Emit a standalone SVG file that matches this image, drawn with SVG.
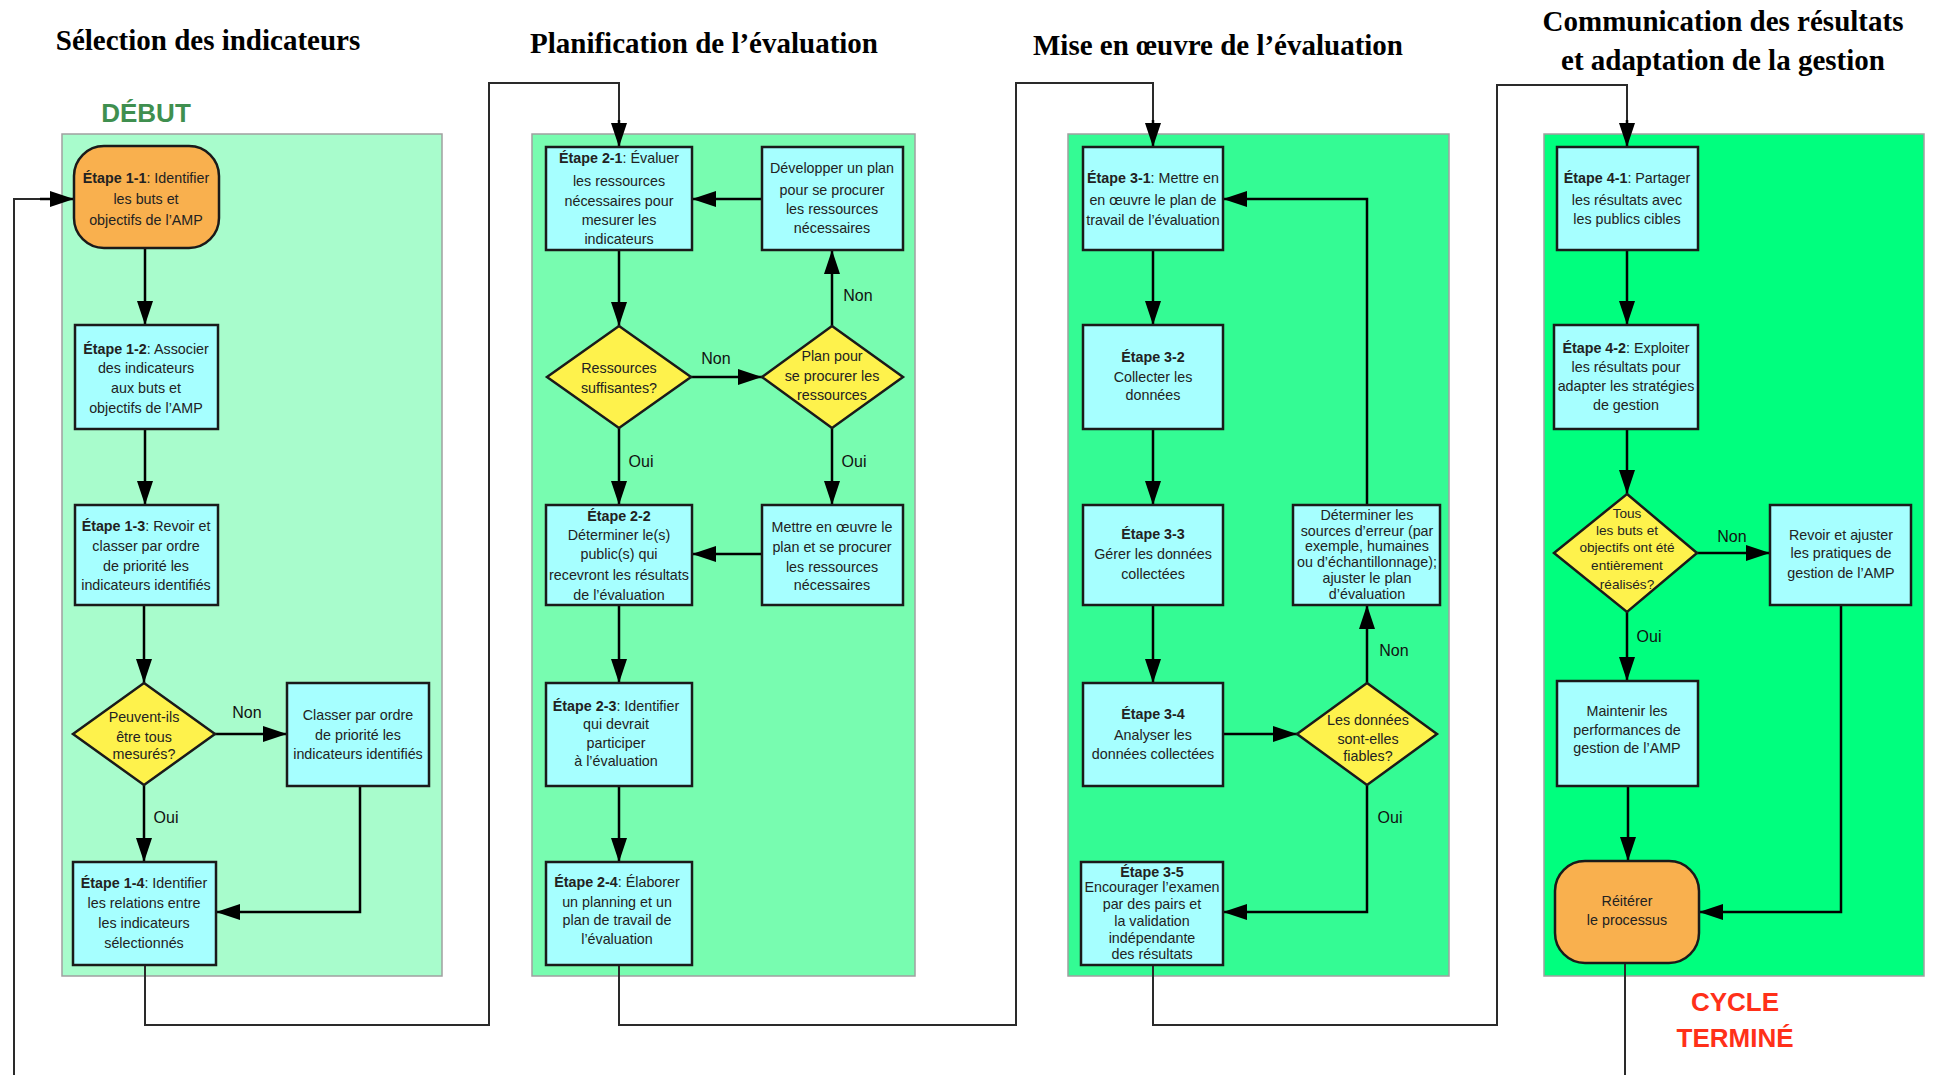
<svg xmlns="http://www.w3.org/2000/svg" width="1933" height="1075" viewBox="0 0 1933 1075">
<defs>
<marker id="ah" markerUnits="userSpaceOnUse" markerWidth="24" markerHeight="16" refX="24" refY="8" orient="auto"><path d="M0,0 L24,8 L0,16 Z" fill="#000"/></marker>
<style>
.title{font-family:"Liberation Serif","Times New Roman",serif;font-weight:bold;font-size:29px;fill:#000;text-anchor:middle}
.panel{stroke:#a0a0a0;stroke-width:1.5}
.box{fill:#a6ffff;stroke:#1a1a1a;stroke-width:2.5}
.term{fill:#f9b04e;stroke:#1a1a1a;stroke-width:2.5}
.dec{fill:#fef24c;stroke:#1a1a1a;stroke-width:2.5}
.t{font-family:"Liberation Sans",Arial,sans-serif;font-size:14.3px;fill:#222;text-anchor:middle}
.td{font-family:"Liberation Sans",Arial,sans-serif;font-size:13.6px;fill:#222;text-anchor:middle}
.b{font-weight:bold}
.lbl{font-family:"Liberation Sans",Arial,sans-serif;font-size:16px;fill:#111;text-anchor:middle}
.c{fill:none;stroke:#000;stroke-width:2.5;marker-end:url(#ah)}
.x{fill:none;stroke:#2a2a2a;stroke-width:2}
.big{font-family:"Liberation Sans",Arial,sans-serif;font-weight:bold;font-size:26px;text-anchor:middle}
</style>
</defs>
<rect width="1933" height="1075" fill="#fff"/>

<!-- titles -->
<text class="title" x="208" y="50">Sélection des indicateurs</text>
<text class="title" x="704" y="53">Planification de l’évaluation</text>
<text class="title" x="1218" y="55">Mise en œuvre de l’évaluation</text>
<text class="title" x="1723" y="31">Communication des résultats</text>
<text class="title" x="1723" y="70">et adaptation de la gestion</text>
<text class="big" x="146" y="122" fill="#3f8f4f">DÉBUT</text>
<text class="big" x="1735" y="1011" fill="#ff3019">CYCLE</text>
<text class="big" x="1735" y="1047" fill="#ff3019">TERMINÉ</text>

<!-- panels -->
<rect class="panel" x="62" y="134" width="380" height="842" fill="#a8fccc"/>
<rect class="panel" x="532" y="134" width="383" height="842" fill="#78fcb0"/>
<rect class="panel" x="1068" y="134" width="381" height="842" fill="#34fb94"/>
<rect class="panel" x="1544" y="134" width="380" height="842" fill="#00ff7e"/>

<!-- connectors -->
<g id="connectors">
<path class="x" d="M145,965 V1025 H489 V83 H619 V130"/>
<path class="c" d="M619,120 V147"/>
<path class="x" d="M619,965 V1025 H1016 V83 H1153 V130"/>
<path class="c" d="M1153,120 V147"/>
<path class="x" d="M1153,965 V1025 H1497 V85 H1627 V130"/>
<path class="c" d="M1627,120 V147"/>
<path class="x" d="M14,1075 V199 H50"/>
<path class="c" d="M40,199 H74"/>
<path class="x" d="M1625,963 V1075"/>

<path class="c" d="M145,248 V325"/>
<path class="c" d="M145,429 V505"/>
<path class="c" d="M144,605 V683"/>
<path class="c" d="M144,785 V862"/>
<path class="c" d="M215,734 H287"/>
<path class="c" d="M360,786 V912 H216"/>

<path class="c" d="M619,250 V326"/>
<path class="c" d="M691,377 H762"/>
<path class="c" d="M832,326 V250"/>
<path class="c" d="M762,199 H692"/>
<path class="c" d="M619,428 V505"/>
<path class="c" d="M832,428 V505"/>
<path class="c" d="M762,554 H692"/>
<path class="c" d="M619,605 V683"/>
<path class="c" d="M619,786 V862"/>

<path class="c" d="M1153,250 V325"/>
<path class="c" d="M1153,429 V505"/>
<path class="c" d="M1153,605 V683"/>
<path class="c" d="M1223,734 H1297"/>
<path class="c" d="M1367,683 V605"/>
<path class="c" d="M1367,505 V199 H1223"/>
<path class="c" d="M1367,785 V912 H1223"/>

<path class="c" d="M1627,250 V325"/>
<path class="c" d="M1627,429 V494"/>
<path class="c" d="M1697,553 H1770"/>
<path class="c" d="M1627,612 V681"/>
<path class="c" d="M1628,786 V861"/>
<path class="c" d="M1841,605 V912 H1699"/>
</g>

<!-- labels -->
<g id="labels">
<text class="lbl" x="247" y="718">Non</text>
<text class="lbl" x="166" y="823">Oui</text>
<text class="lbl" x="716" y="364">Non</text>
<text class="lbl" x="858" y="301">Non</text>
<text class="lbl" x="641" y="467">Oui</text>
<text class="lbl" x="854" y="467">Oui</text>
<text class="lbl" x="1394" y="656">Non</text>
<text class="lbl" x="1390" y="823">Oui</text>
<text class="lbl" x="1732" y="542">Non</text>
<text class="lbl" x="1649" y="642">Oui</text>
</g>

<!-- panel 1 -->
<g id="n1-1"><rect class="term" x="74" y="146" width="145" height="102" rx="30"/>
<text class="t"><tspan x="146" y="183"><tspan class="b">Étape 1-1</tspan>: Identifier</tspan><tspan x="146" y="204">les buts et</tspan><tspan x="146" y="225">objectifs de l’AMP</tspan></text></g>
<g id="n1-2"><rect class="box" x="75" y="325" width="143" height="104"/>
<text class="t"><tspan x="146" y="354"><tspan class="b">Étape 1-2</tspan>: Associer</tspan><tspan x="146" y="373">des indicateurs</tspan><tspan x="146" y="393">aux buts et</tspan><tspan x="146" y="413">objectifs de l’AMP</tspan></text></g>
<g id="n1-3"><rect class="box" x="75" y="505" width="143" height="100"/>
<text class="t"><tspan x="146" y="531"><tspan class="b">Étape 1-3</tspan>: Revoir et</tspan><tspan x="146" y="551">classer par ordre</tspan><tspan x="146" y="571">de priorité les</tspan><tspan x="146" y="590">indicateurs identifiés</tspan></text></g>
<g id="d1"><polygon class="dec" points="144,683 215,734 144,785 73,734"/>
<text class="t"><tspan x="144" y="722">Peuvent-ils</tspan><tspan x="144" y="742">être tous</tspan><tspan x="144" y="759">mesurés?</tspan></text></g>
<g id="n1-classer"><rect class="box" x="287" y="683" width="142" height="103"/>
<text class="t"><tspan x="358" y="720">Classer par ordre</tspan><tspan x="358" y="740">de priorité les</tspan><tspan x="358" y="759">indicateurs identifiés</tspan></text></g>
<g id="n1-4"><rect class="box" x="73" y="862" width="143" height="103"/>
<text class="t"><tspan x="144" y="888"><tspan class="b">Étape 1-4</tspan>: Identifier</tspan><tspan x="144" y="908">les relations entre</tspan><tspan x="144" y="928">les indicateurs</tspan><tspan x="144" y="948">sélectionnés</tspan></text></g>

<!-- panel 2 -->
<g id="n2-1"><rect class="box" x="546" y="147" width="146" height="103"/>
<text class="t"><tspan x="619" y="163"><tspan class="b">Étape 2-1</tspan>: Évaluer</tspan><tspan x="619" y="186">les ressources</tspan><tspan x="619" y="206">nécessaires pour</tspan><tspan x="619" y="225">mesurer les</tspan><tspan x="619" y="244">indicateurs</tspan></text></g>
<g id="n2-dev"><rect class="box" x="762" y="147" width="141" height="103"/>
<text class="t"><tspan x="832" y="173">Développer un plan</tspan><tspan x="832" y="195">pour se procurer</tspan><tspan x="832" y="214">les ressources</tspan><tspan x="832" y="233">nécessaires</tspan></text></g>
<g id="d2-ress"><polygon class="dec" points="619,326 691,377 619,428 547,377"/>
<text class="t"><tspan x="619" y="373">Ressources</tspan><tspan x="619" y="393">suffisantes?</tspan></text></g>
<g id="d2-plan"><polygon class="dec" points="832,326 903,377 832,428 762,377"/>
<text class="t"><tspan x="832" y="361">Plan pour</tspan><tspan x="832" y="381">se procurer les</tspan><tspan x="832" y="400">ressources</tspan></text></g>
<g id="n2-2"><rect class="box" x="546" y="505" width="146" height="100"/>
<text class="t"><tspan x="619" y="521" class="b">Étape 2-2</tspan><tspan x="619" y="540">Déterminer le(s)</tspan><tspan x="619" y="559">public(s) qui</tspan><tspan x="619" y="580">recevront les résultats</tspan><tspan x="619" y="600">de l’évaluation</tspan></text></g>
<g id="n2-mettre"><rect class="box" x="762" y="505" width="141" height="100"/>
<text class="t"><tspan x="832" y="532">Mettre en œuvre le</tspan><tspan x="832" y="552">plan et se procurer</tspan><tspan x="832" y="572">les ressources</tspan><tspan x="832" y="590">nécessaires</tspan></text></g>
<g id="n2-3"><rect class="box" x="546" y="683" width="146" height="103"/>
<text class="t"><tspan x="616" y="711"><tspan class="b">Étape 2-3</tspan>: Identifier</tspan><tspan x="616" y="729">qui devrait</tspan><tspan x="616" y="748">participer</tspan><tspan x="616" y="766">à l’évaluation</tspan></text></g>
<g id="n2-4"><rect class="box" x="546" y="862" width="146" height="103"/>
<text class="t"><tspan x="617" y="887"><tspan class="b">Étape 2-4</tspan>: Élaborer</tspan><tspan x="617" y="907">un planning et un</tspan><tspan x="617" y="925">plan de travail de</tspan><tspan x="617" y="944">l’évaluation</tspan></text></g>

<!-- panel 3 -->
<g id="n3-1"><rect class="box" x="1083" y="147" width="140" height="103"/>
<text class="t"><tspan x="1153" y="183"><tspan class="b">Étape 3-1</tspan>: Mettre en</tspan><tspan x="1153" y="205">en œuvre le plan de</tspan><tspan x="1153" y="225">travail de l’évaluation</tspan></text></g>
<g id="n3-2"><rect class="box" x="1083" y="325" width="140" height="104"/>
<text class="t"><tspan x="1153" y="362" class="b">Étape 3-2</tspan><tspan x="1153" y="382">Collecter les</tspan><tspan x="1153" y="400">données</tspan></text></g>
<g id="n3-3"><rect class="box" x="1083" y="505" width="140" height="100"/>
<text class="t"><tspan x="1153" y="539" class="b">Étape 3-3</tspan><tspan x="1153" y="559">Gérer les données</tspan><tspan x="1153" y="579">collectées</tspan></text></g>
<g id="n3-det"><rect class="box" x="1293" y="505" width="147" height="100"/>
<text class="t"><tspan x="1367" y="520">Déterminer les</tspan><tspan x="1367" y="536">sources d’erreur (par</tspan><tspan x="1367" y="551">exemple, humaines</tspan><tspan x="1367" y="567">ou d’échantillonnage);</tspan><tspan x="1367" y="583">ajuster le plan</tspan><tspan x="1367" y="599">d’évaluation</tspan></text></g>
<g id="n3-4"><rect class="box" x="1083" y="683" width="140" height="103"/>
<text class="t"><tspan x="1153" y="719" class="b">Étape 3-4</tspan><tspan x="1153" y="740">Analyser les</tspan><tspan x="1153" y="759">données collectées</tspan></text></g>
<g id="d3"><polygon class="dec" points="1367,683 1437,734 1367,785 1297,734"/>
<text class="t"><tspan x="1368" y="725">Les données</tspan><tspan x="1368" y="744">sont-elles</tspan><tspan x="1368" y="761">fiables?</tspan></text></g>
<g id="n3-5"><rect class="box" x="1081" y="862" width="142" height="103"/>
<text class="t"><tspan x="1152" y="877" class="b">Étape 3-5</tspan><tspan x="1152" y="892">Encourager l’examen</tspan><tspan x="1152" y="909">par des pairs et</tspan><tspan x="1152" y="926">la validation</tspan><tspan x="1152" y="943">indépendante</tspan><tspan x="1152" y="959">des résultats</tspan></text></g>

<!-- panel 4 -->
<g id="n4-1"><rect class="box" x="1557" y="147" width="141" height="103"/>
<text class="t"><tspan x="1627" y="183"><tspan class="b">Étape 4-1</tspan>: Partager</tspan><tspan x="1627" y="205">les résultats avec</tspan><tspan x="1627" y="224">les publics cibles</tspan></text></g>
<g id="n4-2"><rect class="box" x="1554" y="325" width="144" height="104"/>
<text class="t"><tspan x="1626" y="353"><tspan class="b">Étape 4-2</tspan>: Exploiter</tspan><tspan x="1626" y="372">les résultats pour</tspan><tspan x="1626" y="391">adapter les stratégies</tspan><tspan x="1626" y="410">de gestion</tspan></text></g>
<g id="d4"><polygon class="dec" points="1627,494 1697,553 1627,612 1554,553"/>
<text class="td"><tspan x="1627" y="518">Tous</tspan><tspan x="1627" y="535">les buts et</tspan><tspan x="1627" y="552">objectifs ont été</tspan><tspan x="1627" y="570">entièrement</tspan><tspan x="1627" y="589">réalisés?</tspan></text></g>
<g id="n4-revoir"><rect class="box" x="1770" y="505" width="141" height="100"/>
<text class="t"><tspan x="1841" y="540">Revoir et ajuster</tspan><tspan x="1841" y="558">les pratiques de</tspan><tspan x="1841" y="578">gestion de l’AMP</tspan></text></g>
<g id="n4-maintenir"><rect class="box" x="1557" y="681" width="141" height="105"/>
<text class="t"><tspan x="1627" y="716">Maintenir les</tspan><tspan x="1627" y="735">performances de</tspan><tspan x="1627" y="753">gestion de l’AMP</tspan></text></g>
<g id="n4-reiterer"><rect class="term" x="1555" y="861" width="144" height="102" rx="30"/>
<text class="t"><tspan x="1627" y="906">Réitérer</tspan><tspan x="1627" y="925">le processus</tspan></text></g>
</svg>
